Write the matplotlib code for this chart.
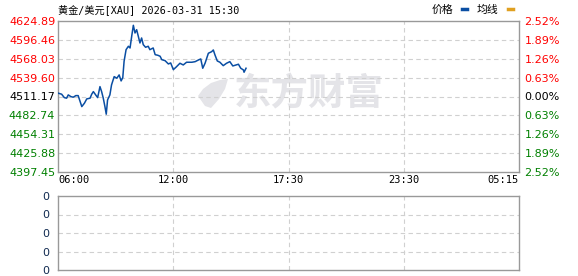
import numpy as np
import matplotlib.pyplot as plt
from matplotlib.patches import Polygon

plt.rcParams['font.family'] = ['Noto Sans CJK SC', 'DejaVu Sans']

# chart data
title = '黄金/美元[XAU] 2026-03-31 15:30'
prev_close = 4511.17
price_ticks = [4397.45, 4425.88, 4454.31, 4482.74, 4511.17, 4539.60, 4568.03, 4596.46, 4624.89]
pct_labels = ['2.52%', '1.89%', '1.26%', '0.63%', '0.00%', '0.63%', '1.26%', '1.89%', '2.52%']
time_labels = ['06:00', '12:00', '17:30', '23:30', '05:15']
session_len = 1395  # minutes from 06:00 to 05:15

# minutes after 06:00, price
minutes = [1, 11, 19, 26, 31, 39, 46, 54, 61, 67, 72, 80, 87, 97, 102, 107, 114, 120,
           127, 132, 137, 142, 146, 150, 157, 162, 170, 178, 185, 191, 196,
           200, 206, 213, 218, 223, 228, 233, 238, 243, 248, 253, 258, 265, 273, 278,
           288, 294, 302, 309, 314, 324, 334, 341, 349, 357,
           369, 379, 389, 405, 415, 425, 432, 438, 445, 455, 465, 470, 475, 482, 490,
           500, 510, 520, 529, 539, 546, 553, 561, 563, 569]
prices = [4516.13, 4514.63, 4509.52, 4508.61, 4513.58, 4511.02, 4510.12, 4512.52, 4512.52,
          4503.50, 4495.98, 4501.09, 4507.56, 4508.61, 4514.63, 4518.54, 4513.58, 4509.52,
          4526.06, 4518.54, 4508.61, 4495.98, 4484.55, 4506.06, 4513.58, 4528.62, 4541.10,
          4538.69, 4543.66, 4534.63, 4539.60,
          4564.26, 4581.71, 4586.82, 4584.26, 4601.86, 4618.41, 4606.82, 4611.79, 4601.86,
          4591.78, 4599.30, 4589.23, 4585.32, 4586.82, 4581.71, 4584.26, 4574.19, 4573.28,
          4571.78, 4566.67, 4565.16, 4560.20, 4561.70, 4551.63, 4555.24,
          4561.25, 4558.70, 4562.76, 4562.76, 4563.66, 4566.22, 4567.72, 4553.73, 4561.25,
          4576.29, 4578.70, 4581.26, 4573.74, 4564.71, 4562.76, 4557.64, 4561.25, 4563.66,
          4557.19, 4558.70, 4559.75, 4553.73, 4551.18, 4547.72, 4553.73]

vol_ticks = [0, 1, 2, 3, 4]

W, H = 578, 276
fig = plt.figure(figsize=(W / 100, H / 100), dpi=100)

def box(l, t, r, b):
    return [l / W, 1 - b / H, (r - l) / W, (b - t) / H]

ax = fig.add_axes(box(58, 21, 519, 172))
ax2 = fig.add_axes(box(58, 196, 519, 270))

grid_kw = dict(color='#d0d0d0', linestyle=(0, (4, 3)), linewidth=0.8)
xq = np.linspace(0, session_len, 5)

for a in (ax, ax2):
    for s in a.spines.values():
        s.set_color('#999999')
        s.set_linewidth(1.0)
    a.set_xlim(0, session_len)
    for x in xq[1:-1]:
        a.axvline(x, zorder=1, **grid_kw)
    a.tick_params(length=0)

# main price panel
ax.set_ylim(price_ticks[0], price_ticks[-1])
for v in price_ticks[1:-1]:
    ax.axhline(v, zorder=1, **grid_kw)
ax.plot(minutes, prices, color='#0a4ea3', linewidth=1.1, zorder=3)

ax.set_yticks(price_ticks)
ax.set_yticklabels(['%.2f' % v for v in price_ticks], family='DejaVu Sans', fontsize=8)
for lab, v in zip(ax.get_yticklabels(), price_ticks):
    lab.set_color('#ff0000' if v > prev_close else ('#008000' if v < prev_close else '#000000'))
ax.tick_params(axis='y', pad=2)

ax.set_xticks(xq)
ax.set_xticklabels(time_labels, family='DejaVu Sans Mono', fontsize=7.5)
xl = ax.get_xticklabels()
xl[0].set_ha('left')
xl[-1].set_ha('right')
ax.tick_params(axis='x', pad=2)

axr = ax.twinx()
axr.set_ylim(ax.get_ylim())
axr.set_yticks(price_ticks)
axr.set_yticklabels(pct_labels, family='DejaVu Sans', fontsize=8)
for lab, v in zip(axr.get_yticklabels(), price_ticks):
    lab.set_color('#ff0000' if v > prev_close else ('#008000' if v < prev_close else '#000000'))
axr.tick_params(length=0, pad=4)
for s in axr.spines.values():
    s.set_visible(False)

# watermark (logo + text)
ax.text(0.544, 0.515, '东方财富', transform=ax.transAxes, fontsize=27, fontweight='bold',
        color='#e4e4e8', ha='center', va='center', zorder=0)
logo_px = [(198, 96), (203, 89), (211, 83), (220, 80), (228, 79), (225, 89),
           (219, 99), (211, 108), (205, 106)]
leaf = Polygon([((x - 58) / 461, (172 - y) / 151) for x, y in logo_px], closed=True,
               transform=ax.transAxes, facecolor='#e4e4e8', edgecolor='none', zorder=0)
ax.add_patch(leaf)

# volume panel
ax2.set_ylim(0, 4)
for v in vol_ticks[1:-1]:
    ax2.axhline(v, zorder=1, **grid_kw)
ax2.set_yticks(vol_ticks)
ax2.set_yticklabels(['0'] * len(vol_ticks), family='DejaVu Sans', fontsize=8, color='#102a50')
ax2.set_xticks([])
ax2.tick_params(axis='y', pad=6)

# title and legend
head_font = ['DejaVu Sans Mono', 'Noto Sans CJK SC']
fig.text(58 / W, 1 - 10 / H, title, fontsize=7.3, va='center', ha='left', family=head_font)
fig.text(432 / W, 1 - 10 / H, '价格', fontsize=7.8, va='center', ha='left', family=head_font)
fig.text(477 / W, 1 - 10 / H, '均线', fontsize=7.8, va='center', ha='left', family=head_font)
fig.add_artist(plt.Line2D([462 / W, 467 / W], [1 - 9 / H, 1 - 9 / H], color='#0a4ea3', linewidth=2.5))
fig.add_artist(plt.Line2D([508 / W, 513 / W], [1 - 9 / H, 1 - 9 / H], color='#e0a020', linewidth=2.5))

fig.savefig('out.png', dpi=100)
